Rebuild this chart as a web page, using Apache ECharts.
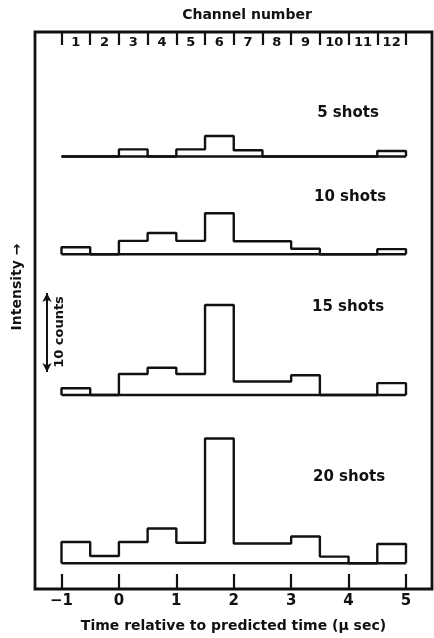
<!DOCTYPE html>
<html>
<head>
<meta charset="utf-8">
<script src="https://cdn.jsdelivr.net/npm/echarts@6/dist/echarts.min.js"></script>
<style>html,body{margin:0;padding:0;background:#fff;}#c{width:434px;height:638px;}</style>
</head>
<body>
<div id="c"></div>
<script>
// ---------------- data ----------------
const timeTicks = [-1, 0, 1, 2, 3, 4, 5];
const channelEdges = [-1, -0.5, 0, 0.5, 1, 1.5, 2, 2.5, 3, 3.5, 4, 4.5, 5];
const channelLabels = ['1', '2', '3', '4', '5', '6', '7', '8', '9', '10', '11', '12'];
const panelLabels = ['5 shots', '10 shots', '15 shots', '20 shots'];
const counts5  = [0, 0, 0.9, 0, 0.9, 2.6, 0.8, 0, 0, 0, 0, 0.7];
const counts10 = [0.9, 0, 1.7, 2.7, 1.7, 5.2, 1.65, 1.65, 0.7, 0, 0, 0.65];
const counts15 = [0.85, 0, 2.65, 3.45, 2.65, 11.4, 1.7, 1.7, 2.5, 0, 0, 1.5];
const counts20 = [2.7, 0.93, 2.7, 4.4, 2.6, 15.8, 2.5, 2.5, 3.4, 0.85, 0, 2.45];
const scaleArrow = [2.9, 12.9]; // "10 counts" arrow, in counts

// ---------------- layout ----------------
const FONT = 'DejaVu Sans';
const INK = '#111';
const gridLeft = 35, gridRight = 2;
const xMin = -1.4615, xMax = 5.453;
const pxPerCount = 7.9;
const yMaxPanel = 18;
const panelBaselines = [156.5, 254.3, 395, 563.3];
const panelLabelPos = [[348, 113], [350, 197], [348, 307], [349, 477]];
const allCounts = [counts5, counts10, counts15, counts20];

const centers = channelEdges.slice(0, -1).map((e, i) => (e + channelEdges[i + 1]) / 2);

function stepData(counts) {
  const d = [[channelEdges[0], 0]];
  counts.forEach((c, i) => d.push([channelEdges[i], c]));
  d.push([channelEdges[channelEdges.length - 1], counts[counts.length - 1]]);
  d.push([channelEdges[channelEdges.length - 1], 0]);
  return d;
}

const grids = [{ left: gridLeft, right: gridRight, top: 32, bottom: 46, show: true, borderColor: INK, borderWidth: 2.8, backgroundColor: 'transparent' }];
const xAxes = [
  {
    gridIndex: 0, type: 'value', position: 'bottom', min: xMin, max: xMax,
    axisLine: { show: false }, splitLine: { show: false },
    axisTick: { show: true, inside: true, length: 15, lineStyle: { color: INK, width: 2.2 }, customValues: timeTicks },
    axisLabel: { show: true, customValues: timeTicks, margin: 5, color: INK, fontFamily: FONT, fontWeight: 'bold', fontSize: 15,
      formatter: v => (v < 0 ? '\u2212' + Math.abs(v) : String(v)) },
    name: 'Time relative to predicted time (\u00b5 sec)', nameLocation: 'middle', nameGap: 30,
    nameTextStyle: { color: INK, fontFamily: FONT, fontWeight: 'bold', fontSize: 14 }
  },
  {
    gridIndex: 0, type: 'value', position: 'top', min: xMin, max: xMax,
    axisLine: { show: false }, splitLine: { show: false },
    axisTick: { show: true, inside: true, length: 13, lineStyle: { color: INK, width: 2.2 }, customValues: channelEdges },
    axisLabel: { show: true, inside: true, customValues: centers, margin: 4, color: INK, fontFamily: FONT, fontWeight: 'bold', fontSize: 13,
      formatter: v => { const i = centers.findIndex(c => Math.abs(c - v) < 1e-6); return i >= 0 ? channelLabels[i] : ''; } }
  }
];
const yAxes = [{ gridIndex: 0, type: 'value', show: false, min: 0, max: 1 }];
const series = [];

allCounts.forEach((counts, k) => {
  const gi = k + 1;
  const h = yMaxPanel * pxPerCount;
  grids.push({ left: gridLeft, right: gridRight, top: panelBaselines[k] - h, height: h });
  xAxes.push({ gridIndex: gi, type: 'value', show: false, min: xMin, max: xMax });
  yAxes.push({ gridIndex: gi, type: 'value', show: false, min: 0, max: yMaxPanel });
  series.push({
    type: 'line', xAxisIndex: gi + 1, yAxisIndex: gi, data: [[channelEdges[0], 0], [channelEdges[channelEdges.length - 1], 0]],
    symbol: 'none', lineStyle: { color: INK, width: 2.4 }, silent: true, clip: false
  });
  const s = {
    type: 'line', xAxisIndex: gi + 1, yAxisIndex: gi, data: stepData(counts), step: 'end',
    symbol: 'none', lineStyle: { color: INK, width: 2.4 }, silent: true, clip: false
  };
  if (k === 2) {
    s.markLine = {
      silent: true, symbol: ['arrow', 'arrow'], symbolSize: [7, 9], label: { show: false },
      lineStyle: { color: INK, width: 2, type: 'solid' },
      emphasis: { disabled: true },
      data: [[{ coord: [-1.2525, scaleArrow[0]] }, { coord: [-1.2525, scaleArrow[1]] }]]
    };
  }
  series.push(s);
});

const textStyle = (size) => ({ fill: INK, fontFamily: FONT, fontWeight: 'bold', fontSize: size, textAlign: 'center', textVerticalAlign: 'middle' });
const graphic = [
  { type: 'text', x: 247, y: 15, style: Object.assign({ text: 'Channel number' }, textStyle(14)) },
  { type: 'text', x: 17, y: 287, rotation: Math.PI / 2, style: Object.assign({ text: 'Intensity \u2192' }, textStyle(14)) },
  { type: 'text', x: 60, y: 332, rotation: Math.PI / 2, style: Object.assign({ text: '10 counts' }, textStyle(13)) }
];
panelLabels.forEach((t, k) => {
  graphic.push({ type: 'text', x: panelLabelPos[k][0], y: panelLabelPos[k][1], style: Object.assign({ text: t }, textStyle(15)) });
});

const chart = echarts.init(document.getElementById('c'), null, { renderer: 'canvas' });
chart.setOption({
  animation: false,
  backgroundColor: '#fff',
  grid: grids, xAxis: xAxes, yAxis: yAxes, series: series, graphic: graphic
});
</script>
</body>
</html>
